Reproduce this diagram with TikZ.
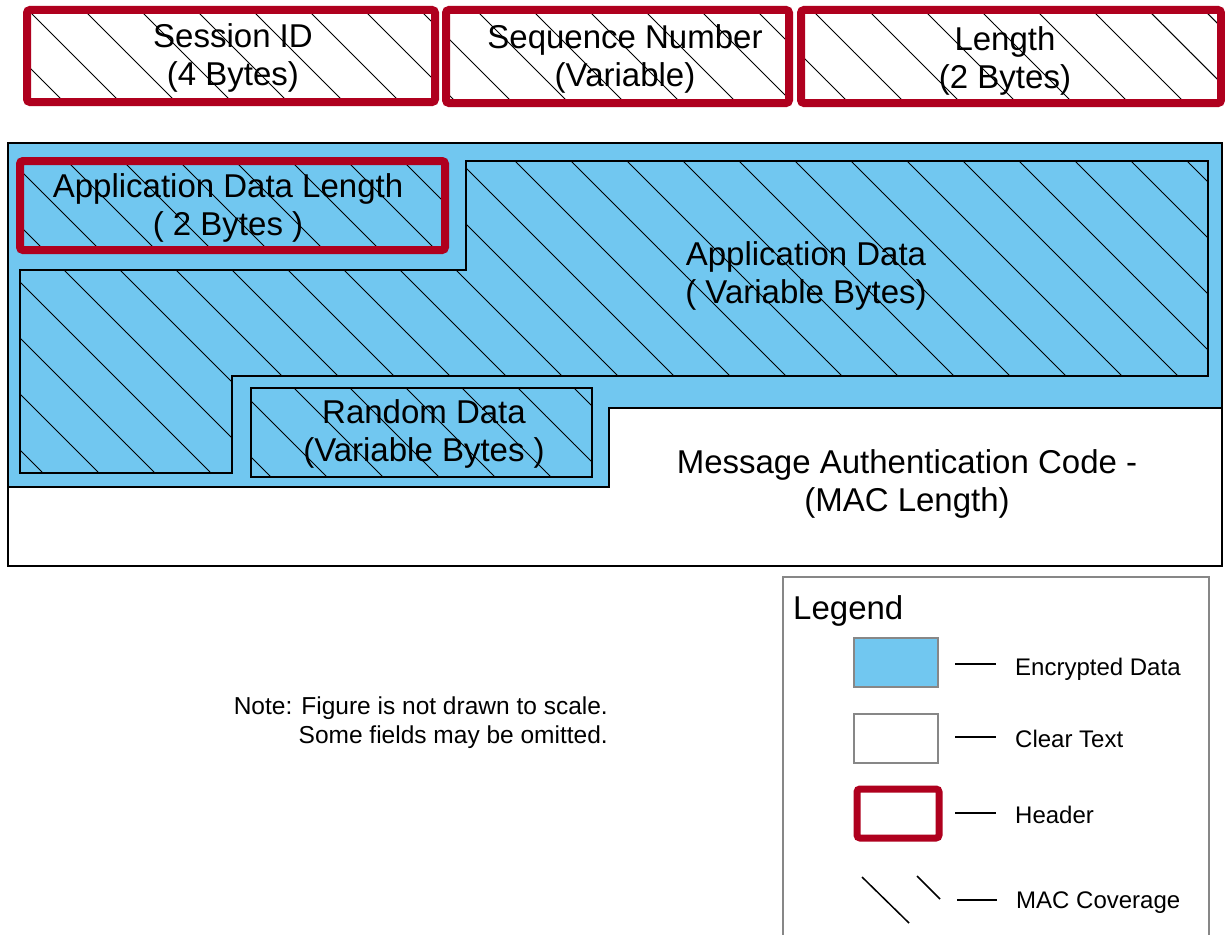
\documentclass[tikz,border=0pt]{standalone}
\usepackage{fontspec}
\setmainfont{Liberation Sans}
\usetikzlibrary{patterns.meta}
\definecolor{hdrred}{RGB}{175,0,30}
\definecolor{encblue}{RGB}{113,199,240}
\definecolor{leggray}{RGB}{135,135,135}
\tikzset{
  hatch/.style={pattern={Lines[angle=-45,distance=39.6pt,line width=0.9pt]},pattern color=black},
  hdrbox/.style={draw=hdrred,line width=8pt,rounded corners=3pt,preaction={fill=white},hatch,inner sep=0pt},
  hdrencbox/.style={draw=hdrred,line width=8pt,rounded corners=3pt,preaction={fill=encblue},hatch,inner sep=0pt},
  encregion/.style={draw=black,line width=2pt,preaction={fill=encblue},hatch},
  bigtxt/.style={font=\fontsize{33}{38}\selectfont,align=center,inner sep=0pt},
  smalltxt/.style={font=\fontsize{24}{28}\selectfont,inner sep=0pt},
  notetxt/.style={font=\fontsize{24.5}{29}\selectfont,inner sep=0pt},
  swatch/.style={draw=leggray,line width=2pt,inner sep=0pt,minimum width=84pt,minimum height=49pt},
  legdash/.style={draw=black,line width=1.5pt},
}
\begin{document}
\begin{tikzpicture}[x=1pt,y=-1pt]
\useasboundingbox (0,0) rectangle (1225,934);
\clip (0,0) rectangle (1225,934);
\fill[white] (0,0) rectangle (1225,934);

% header boxes
\node[hdrbox,minimum width=408pt,minimum height=92pt] (sid) at (231,56) {};
\node[hdrbox,minimum width=343pt,minimum height=93pt] (seq) at (617.5,56.5) {};
\node[hdrbox,minimum width=420pt,minimum height=93pt] (len) at (1011,56.5) {};
\node[bigtxt] (sidt) at (233,58) {Session ID\\(4 Bytes)};
\node[bigtxt] (seqt) at (625,58.5) {Sequence Number\\(Variable)};
\node[bigtxt] (lent) at (1005,61) {Length\\(2 Bytes)};

% record body
\draw[line width=2pt,fill=white] (8,143) rectangle (1222,566);
\draw[line width=2.5pt,fill=encblue] (8,143) -- (1222,143) -- (1222,408) -- (609,408) -- (609,487) -- (8,487) -- cycle;
\draw[encregion] (20,270) -- (466,270) -- (466,161) -- (1208,161) -- (1208,376) -- (232,376) -- (232,473) -- (20,473) -- cycle;
\node[hdrencbox,minimum width=425pt,minimum height=89pt] (adl) at (232.5,205.5) {};
\node[bigtxt] (adlt) at (228,207.5) {Application Data Length\\( 2 Bytes )};
\node[bigtxt] (adt) at (806,275.5) {Application Data\\( Variable Bytes)};
\node[encregion,inner sep=0pt,minimum width=341pt,minimum height=89pt] (rnd) at (421.5,432.5) {};
\node[bigtxt] (rndt) at (424,433.5) {Random Data\\(Variable Bytes )};
\node[bigtxt] (mact) at (907,483.5) {Message Authentication Code -\\(MAC Length)};

% note
\node[notetxt,align=right,anchor=east] (note) at (608,722.5) {Note: Figure is not drawn to scale.\\Some fields may be omitted.};

% legend
\draw[draw=leggray,line width=2pt] (783,945) -- (783,577) -- (1209,577) -- (1209,945);
\node[font=\fontsize{33}{38}\selectfont,inner sep=0pt,anchor=base west] (legt) at (793,619) {Legend};
\node[swatch,fill=encblue] (swenc) at (896,662.5) {};
\node[swatch,fill=white] (swclr) at (896,738.5) {};
\node[draw=hdrred,line width=7pt,rounded corners=3pt,inner sep=0pt,minimum width=82pt,minimum height=49pt,fill=white] (swhdr) at (898,813.5) {};
\coordinate (mac1a) at (862,877); \coordinate (mac1b) at (909,923);
\coordinate (mac2a) at (917,876); \coordinate (mac2b) at (940,899);
\draw[line width=1.5pt] (mac1a) -- (mac1b);
\draw[line width=1.5pt] (mac2a) -- (mac2b);

\node[smalltxt,anchor=base west] (lenc) at (1015,675) {Encrypted Data};
\node[smalltxt,anchor=base west] (lclr) at (1015,747) {Clear Text};
\node[smalltxt,anchor=base west] (lhdr) at (1015,823) {Header};
\node[smalltxt,anchor=base west] (lmac) at (1016,908) {MAC Coverage};

\coordinate (d1a) at (955,664); \coordinate (d1b) at (996,664);
\coordinate (d2a) at (955,737); \coordinate (d2b) at (996,737);
\coordinate (d3a) at (955,813); \coordinate (d3b) at (996,813);
\coordinate (d4a) at (957,900); \coordinate (d4b) at (997,900);
\draw[legdash] (d1a) -- (d1b);
\draw[legdash] (d2a) -- (d2b);
\draw[legdash] (d3a) -- (d3b);
\draw[legdash] (d4a) -- (d4b);
\end{tikzpicture}
\end{document}
